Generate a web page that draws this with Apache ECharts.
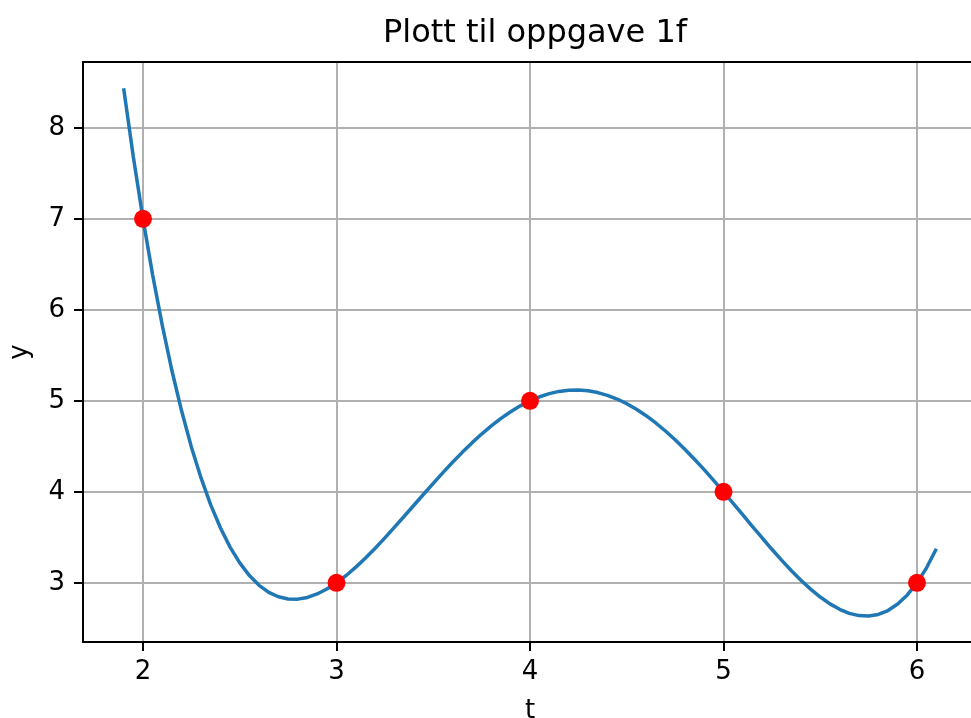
<!DOCTYPE html>
<html>
<head>
<meta charset="utf-8">
<script src="https://cdn.jsdelivr.net/npm/echarts@6/dist/echarts.min.js"></script>
<style>html,body{margin:0;padding:0;background:#fff;}#c{width:971px;height:718px;}</style>
</head>
<body>
<div id="c"></div>
<script>
// Curve samples (t, y)
const curveT = [1.90,1.95,2.00,2.05,2.10,2.15,2.20,2.25,2.30,2.35,2.40,2.45,2.50,2.55,2.60,2.65,2.70,2.75,2.80,2.85,2.90,2.95,3.00,3.05,3.10,3.15,3.20,3.25,3.30,3.35,3.40,3.45,3.50,3.55,3.60,3.65,3.70,3.75,3.80,3.85,3.90,3.95,4.00,4.05,4.10,4.15,4.20,4.25,4.30,4.35,4.40,4.45,4.50,4.55,4.60,4.65,4.70,4.75,4.80,4.85,4.90,4.95,5.00,5.05,5.10,5.15,5.20,5.25,5.30,5.35,5.40,5.45,5.50,5.55,5.60,5.65,5.70,5.75,5.80,5.85,5.90,5.95,6.00,6.05,6.10];
const curveY = [8.435,7.683,7.000,6.382,5.826,5.328,4.885,4.494,4.153,3.857,3.605,3.393,3.219,3.080,2.973,2.896,2.847,2.822,2.821,2.840,2.878,2.932,3.000,3.081,3.173,3.273,3.381,3.494,3.612,3.732,3.853,3.974,4.094,4.211,4.325,4.434,4.538,4.635,4.725,4.807,4.881,4.945,5.000,5.045,5.080,5.104,5.117,5.119,5.111,5.091,5.061,5.020,4.969,4.908,4.837,4.757,4.669,4.572,4.469,4.359,4.244,4.124,4.000,3.874,3.747,3.619,3.493,3.369,3.250,3.136,3.029,2.931,2.844,2.769,2.709,2.665,2.640,2.635,2.653,2.696,2.767,2.867,3.000,3.168,3.374];
const pointT = [2,3,4,5,6];
const pointY = [7,3,5,4,3];
const xTicks = [2,3,4,5,6];
const yTicks = [3,4,5,6,7,8];
const titleText = 'Plott til oppgave 1f';
const xName = 't';
const yName = 'y';

const font = 'DejaVu Sans';
const chart = echarts.init(document.getElementById('c'), null, {renderer:'canvas'});
chart.setOption({
  animation: false,
  backgroundColor: '#ffffff',
  title: {
    text: titleText,
    left: 530, top: 13, textAlign: 'center',
    textStyle: {fontFamily: font, fontSize: 32, fontWeight: 'normal', color: '#000'}
  },
  grid: {left: 83, top: 62, right: -6, bottom: 76, outerBoundsMode: 'none', containLabel: false, show: false},
  xAxis: [{
    type: 'value', min: 1.69, max: 6.31,
    name: xName, nameLocation: 'middle', nameGap: 56,
    nameTextStyle: {fontFamily: font, fontSize: 26, color: '#000'},
    axisLine: {show: true, onZero: false, lineStyle: {color: '#000', width: 2}},
    axisTick: {show: true, length: 9, lineStyle: {color: '#000', width: 2}, customValues: xTicks},
    axisLabel: {fontFamily: font, fontSize: 26, color: '#000', margin: 17, customValues: xTicks},
    splitLine: {show: true, lineStyle: {color: '#b0b0b0', width: 2}}
  }, {
    type: 'value', position: 'top', min: 1.69, max: 6.31,
    axisLine: {show: true, onZero: false, lineStyle: {color: '#000', width: 2}},
    axisTick: {show: false}, axisLabel: {show: false}, splitLine: {show: false}
  }],
  yAxis: {
    type: 'value', min: 2.35, max: 8.724,
    name: yName, nameLocation: 'middle', nameGap: 50, nameRotate: 90,
    nameTextStyle: {fontFamily: font, fontSize: 26, color: '#000'},
    axisLine: {show: true, onZero: false, lineStyle: {color: '#000', width: 2}},
    axisTick: {show: true, length: 9, lineStyle: {color: '#000', width: 2}, customValues: yTicks},
    axisLabel: {fontFamily: font, fontSize: 26, color: '#000', margin: 18, customValues: yTicks},
    splitLine: {show: true, lineStyle: {color: '#b0b0b0', width: 2}}
  },
  series: [
    {
      type: 'line', data: curveT.map((t, i) => [t, curveY[i]]),
      showSymbol: false, smooth: false, clip: true,
      lineStyle: {color: '#1f77b4', width: 3.5}, z: 2
    },
    {
      type: 'scatter', data: pointT.map((t, i) => [t, pointY[i]]),
      symbol: 'circle', symbolSize: 18,
      itemStyle: {color: '#ff0000', opacity: 1}, z: 3
    }
  ]
});
</script>
</body>
</html>
